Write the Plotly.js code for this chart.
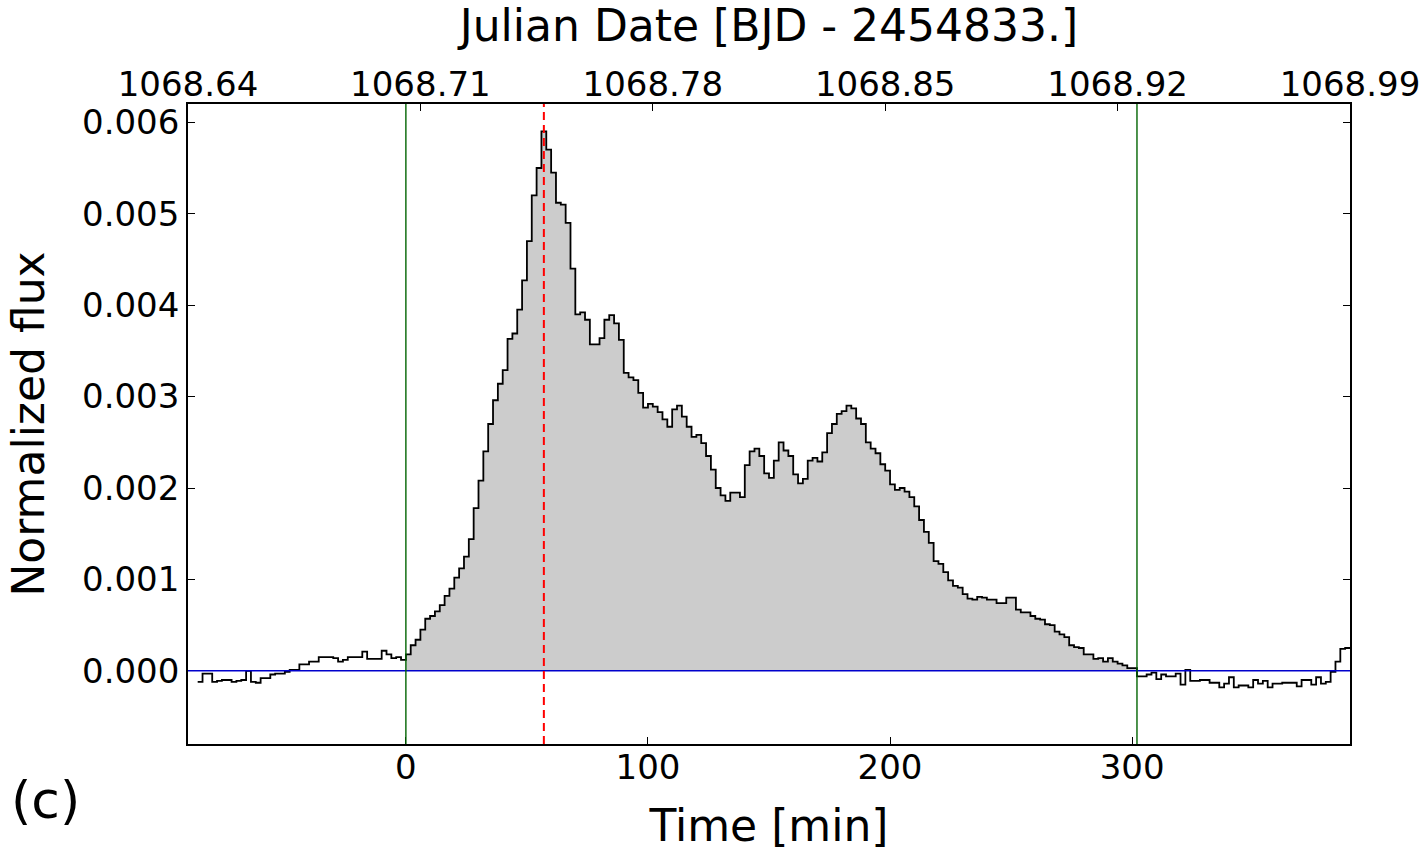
<!DOCTYPE html>
<html><head><meta charset="utf-8">
<script src="https://cdn.plot.ly/plotly-3.0.1.min.js"></script>
<style>html,body{margin:0;padding:0;background:#fff}#chart{width:1428px;height:854px}</style>
</head><body><div id="chart"></div>
<script>
// Light curve (step), 2-minute bins starting at -86 min
const timeStart = -86;
const binWidth = 2;
const flux = [
 -0.00012,-0.00003,-0.00003,-0.00012,-0.00011,-0.00010,-0.00010,-0.00012,-0.00011,-0.00010,
  0.00000,-0.00012,-0.00013,-0.00008,-0.00008,-0.00004,-0.00003,-0.00003,-0.00001, 0.00001,
  0.00001, 0.00007, 0.00007, 0.00010, 0.00010, 0.00015, 0.00015, 0.00015, 0.00014, 0.00010,
  0.00012, 0.00015, 0.00015, 0.00015, 0.00021, 0.00013, 0.00013, 0.00013, 0.00022, 0.00018,
  0.00014, 0.00015, 0.00012,
  // flare 0 .. 300
  0.00018, 0.00028, 0.00034, 0.00045, 0.00057, 0.00060, 0.00065, 0.00072, 0.00082, 0.00090,
  0.00102, 0.00112, 0.00125, 0.00144, 0.00178, 0.00208, 0.00240, 0.00270, 0.00296, 0.00314,
  0.00329, 0.00363, 0.00369, 0.00395, 0.00427, 0.00470, 0.00520, 0.00550, 0.00590, 0.00570,
  0.00545, 0.00512, 0.00510, 0.00490, 0.00440, 0.00390, 0.00392, 0.00384, 0.00357, 0.00357,
  0.00364, 0.00384, 0.00389, 0.00380, 0.00362, 0.00326, 0.00321, 0.00318, 0.00304, 0.00288,
  0.00292, 0.00289, 0.00283, 0.00275, 0.00267, 0.00286, 0.00290, 0.00278, 0.00267, 0.00256,
  0.00258, 0.00249, 0.00235, 0.00220, 0.00200, 0.00192, 0.00186, 0.00195, 0.00195, 0.00190,
  0.00225, 0.00240, 0.00243, 0.00235, 0.00216, 0.00211, 0.00230, 0.00250, 0.00241, 0.00235,
  0.00215, 0.00205, 0.00210, 0.00230, 0.00233, 0.00229, 0.00239, 0.00260, 0.00270, 0.00281,
  0.00284, 0.00290, 0.00287, 0.00276, 0.00270, 0.00250, 0.00243, 0.00238, 0.00226, 0.00219,
  0.00204, 0.00198, 0.00200, 0.00196, 0.00190, 0.00180, 0.00165, 0.00152, 0.00140, 0.00120,
  0.00117, 0.00108, 0.00099, 0.00093, 0.00091, 0.00084, 0.00079, 0.00078, 0.00081, 0.00080,
  0.00078, 0.00078, 0.00074, 0.00074, 0.00080, 0.00080, 0.00067, 0.00064, 0.00064, 0.00060,
  0.00057, 0.00056, 0.00051, 0.00050, 0.00043, 0.00040, 0.00037, 0.00028, 0.00026, 0.00025,
  0.00018, 0.00018, 0.00013, 0.00014, 0.00010, 0.00014, 0.00010, 0.00008, 0.00006, 0.00003,
  0.00003,
  // post-flare 302 .. 388
 -0.00006,-0.00006,-0.00004,-0.00002,-0.00009,-0.00004,-0.00006,-0.00006,-0.00003,-0.00015,
  0.00001,-0.00011,-0.00011,-0.00010,-0.00010,-0.00013,-0.00013,-0.00018,-0.00014,-0.00007,
 -0.00018,-0.00016,-0.00016,-0.00018,-0.00010,-0.00014,-0.00011,-0.00018,-0.00014,-0.00014,
 -0.00013,-0.00013,-0.00013,-0.00017,-0.00010,-0.00010,-0.00015,-0.00007,-0.00014,-0.00012,
 -0.00001, 0.00010, 0.00024, 0.00025
];

const flareStart = 0;      // min (green line)
const flareEnd = 302;      // min (green line)
const peakTime = 57;       // min (red dashed line)

const bottomTicks = [0, 100, 200, 300];
const topTickVals = [1068.64, 1068.71, 1068.78, 1068.85, 1068.92, 1068.99];
const topTickText = ['1068.64', '1068.71', '1068.78', '1068.85', '1068.92', '1068.99'];
const yTickVals = [0, 0.001, 0.002, 0.003, 0.004, 0.005, 0.006];
const yTickText = ['0.000', '0.001', '0.002', '0.003', '0.004', '0.005', '0.006'];

// time of each bin start
const times = flux.map((_, i) => timeStart + i * binWidth);
const tEnd = timeStart + flux.length * binWidth;

// full line (add closing point for last step)
const lineX = times.concat([tEnd]);
const lineY = flux.concat([flux[flux.length - 1]]);

// flare fill segment
const fillX = [], fillY = [];
times.forEach((t, i) => { if (t >= flareStart && t < flareEnd) { fillX.push(t); fillY.push(flux[i]); } });
fillX.push(flareEnd); fillY.push(fillY[fillY.length - 1]);

const font = "DejaVu Sans, Liberation Sans, sans-serif";

const traces = [
  { x: fillX, y: fillY, type: 'scatter', mode: 'lines', line: { shape: 'hv', width: 0, color: '#cccccc' },
    fill: 'tozeroy', fillcolor: '#cccccc', hoverinfo: 'skip', showlegend: false },
  { x: lineX, y: lineY, type: 'scatter', mode: 'lines', line: { shape: 'hv', width: 1.8, color: '#000000' },
    showlegend: false },
  { x: [topTickVals[0], topTickVals[topTickVals.length - 1]], y: [null, null], xaxis: 'x2', yaxis: 'y',
    type: 'scatter', mode: 'lines', showlegend: false, hoverinfo: 'skip' }
];

const layout = {
  width: 1428, height: 854,
  margin: { l: 188, r: 78, t: 104, b: 110 },
  paper_bgcolor: '#ffffff', plot_bgcolor: '#ffffff',
  font: { family: font, size: 34, color: '#000' },
  showlegend: false,
  xaxis: {
    range: [-90, 390], tickvals: bottomTicks, ticktext: bottomTicks.map(String),
    ticks: 'inside', ticklen: 7, tickcolor: '#000', tickwidth: 1,
    showline: true, linecolor: '#000', linewidth: 1.8, mirror: true,
    showgrid: false, zeroline: false, automargin: false,
    ticklabelstandoff: -8,
    tickfont: { size: 34, family: font },
    title: { text: 'Time [min]', font: { size: 44, family: font }, standoff: 25 }
  },
  xaxis2: {
    overlaying: 'x', side: 'top', range: [1068.64, 1068.99],
    tickvals: topTickVals, ticktext: topTickText,
    ticks: 'inside', ticklen: 7, tickcolor: '#000', tickwidth: 1,
    showgrid: false, zeroline: false, showline: false, automargin: false,
    tickfont: { size: 34, family: font },
    title: { text: 'Julian Date [BJD - 2454833.]', font: { size: 44, family: font }, standoff: 12 }
  },
  yaxis: {
    range: [-0.0008, 0.0062], tickvals: yTickVals, ticktext: yTickText,
    ticks: 'inside', ticklen: 7, tickcolor: '#000', tickwidth: 1,
    showline: true, linecolor: '#000', linewidth: 1.8, mirror: 'ticks',
    showgrid: false, zeroline: false, automargin: false,
    tickfont: { size: 34, family: font },
    title: { text: 'Normalized flux', font: { size: 44, family: font }, standoff: 24 }
  },
  shapes: [
    { type: 'line', xref: 'x', yref: 'y', x0: -90, x1: 390, y0: 0, y1: 0, line: { color: '#0000cc', width: 1.5 } },
    { type: 'line', xref: 'x', yref: 'paper', x0: flareStart, x1: flareStart, y0: 0, y1: 1, line: { color: '#006400', width: 1.4 } },
    { type: 'line', xref: 'x', yref: 'paper', x0: flareEnd, x1: flareEnd, y0: 0, y1: 1, line: { color: '#006400', width: 1.4 } },
    { type: 'line', xref: 'x', yref: 'paper', x0: peakTime, x1: peakTime, y0: 0, y1: 1, line: { color: '#ff0000', width: 2, dash: '8px,5px' } }
  ],
  annotations: [
    { text: '(c)', xref: 'paper', yref: 'paper', x: -0.154, y: -0.088, xanchor: 'left', yanchor: 'middle',
      showarrow: false, font: { size: 52, family: font } }
  ]
};

Plotly.newPlot('chart', traces, layout, { displayModeBar: false, staticPlot: true });
</script>
</body></html>
